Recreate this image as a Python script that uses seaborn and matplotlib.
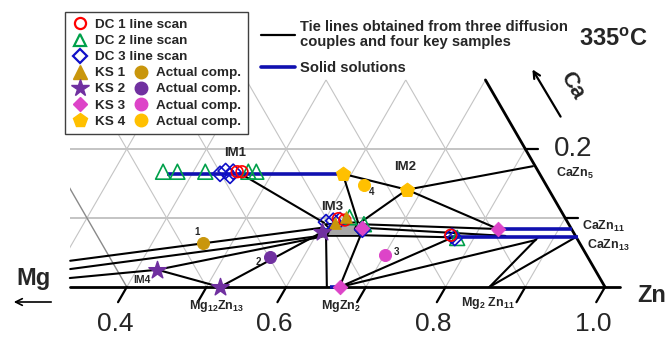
import numpy as np
import matplotlib
matplotlib.use("Agg")
import matplotlib.pyplot as plt
from matplotlib.lines import Line2D
from matplotlib.patches import Polygon
import seaborn as sns

# compositions are (Zn, Ca) mole fractions, Mg = 1 - Zn - Ca
# diffusion couple line scans
dc1_zn = [0.455, 0.461, 0.616, 0.625, 0.769]
dc1_ca = [0.167, 0.167, 0.099, 0.097, 0.075]
dc2_zn = [0.362, 0.380, 0.415, 0.469, 0.479, 0.629, 0.652, 0.779]
dc2_ca = [0.167, 0.167, 0.167, 0.167, 0.167, 0.101, 0.091, 0.071]
dc3_zn = [0.435, 0.440, 0.449, 0.450, 0.603, 0.611, 0.619, 0.654, 0.771, 0.776]
dc3_ca = [0.164, 0.168, 0.161, 0.167, 0.094, 0.096, 0.097, 0.083, 0.074, 0.071]

# key samples: phases found and actual (nominal) compositions
ks1_zn = [0.615, 0.624]
ks1_ca = [0.093, 0.101]
ks2_zn = [0.426, 0.517, 0.605]
ks2_ca = [0.025, 0.0, 0.080]
ks3_zn = [0.667, 0.824, 0.652]
ks3_ca = [0.0, 0.084, 0.086]
ks4_zn = [0.589, 0.681]
ks4_ca = [0.164, 0.141]
act_zn = [0.463, 0.558, 0.701, 0.624]
act_ca = [0.064, 0.044, 0.046, 0.148]
act_names = ["1", "2", "3", "4"]

# tie lines (start Zn, start Ca, end Zn, end Ca)
tie_zn0 = [0.310, 0.316, 0.322, 0.426, 0.426, 0.517, 0.613, 0.667, 0.667, 0.667,
           0.855, 0.855, 0.465, 0.589, 0.589, 0.681, 0.681, 0.681, 0.647, 0.651, 0.656]
tie_ca0 = [0.038, 0.026, 0.013, 0.025, 0.025, 0.0, 0.074, 0.0, 0.0, 0.0,
           0.0, 0.0, 0.162, 0.164, 0.164, 0.141, 0.141, 0.141, 0.091, 0.086, 0.075]
tie_zn1 = [0.603, 0.611, 0.426, 0.612, 0.517, 0.606, 0.651, 0.656, 0.773, 0.879,
           0.880, 0.927, 0.601, 0.643, 0.681, 0.646, 0.822, 0.824, 0.824, 0.838, 0.772]
tie_ca1 = [0.086, 0.075, 0.025, 0.074, 0.0, 0.080, 0.0, 0.074, 0.072, 0.068,
           0.072, 0.072, 0.093, 0.094, 0.141, 0.093, 0.175, 0.084, 0.084, 0.074, 0.072]

# solid solution ranges (Ca level, Zn from, Zn to)
ss_ca = [0.163, 0.084, 0.0724, 0.0]
ss_zn0 = [0.369, 0.824, 0.770, 0.655]
ss_zn1 = [0.589, 0.916, 0.930, 0.667]

# IM3 homogeneity region
im3_zn = [0.603, 0.643, 0.644, 0.656, 0.614, 0.613]
im3_ca = [0.091, 0.094, 0.084, 0.074, 0.074, 0.084]

zn_ticks = [0.4, 0.5, 0.6, 0.7, 0.8, 0.9, 1.0]
zn_labels = ["0.4", "", "0.6", "", "0.8", "", "1.0"]
ca_ticks = [0.1, 0.2]
ca_labels = ["", "0.2"]
grid_vals = [0.1, 0.2, 0.3, 0.4, 0.5, 0.6, 0.7, 0.8, 0.9]

c_ks1 = "#c9960c"
c_ks2 = "#7030a0"
c_ks3 = "#dd44c8"
c_ks4 = "#ffc000"
c_blue = "#1010b0"

sns.set_theme(style="white")
plt.rcParams["font.family"] = ["Liberation Sans", "DejaVu Sans"]
plt.rcParams["mathtext.fontset"] = "custom"
plt.rcParams["mathtext.rm"] = "Liberation Sans:bold"
plt.rcParams["mathtext.it"] = "Liberation Sans:bold"
plt.rcParams["mathtext.bf"] = "Liberation Sans:bold"

S3 = np.sqrt(3) / 2
SIDE = 797.0  # triangle side in pixels


def tern(zn, ca):
    zn = np.asarray(zn, float)
    ca = np.asarray(ca, float)
    return zn + ca / 2, ca * S3


def px(x, y):
    # figure pixel -> data coords (for text placement)
    return (x + 192) / SIDE, (287 - y) / SIDE


fig = plt.figure(figsize=(6.7, 3.38), dpi=100)
ax = fig.add_axes([0, 0, 1, 1])
ax.set_xlim(192 / SIDE, 862 / SIDE)
ax.set_ylim(-51 / SIDE, 287 / SIDE)
ax.axis("off")

# grid, clipped to the visible part of the triangle
xl = px(70, 0)[0]
top = tern(0.7, 0.3)
clip = Polygon([(xl, 0), (1.0, 0), (float(top[0]), float(top[1])), (xl, float(top[1]))],
               closed=True, transform=ax.transData)
for c in ca_ticks:
    ln, = ax.plot(*tern([0, 1 - c], [c, c]), color="#b4b4b4", lw=1.1, zorder=1)
    ln.set_clip_path(clip)
for v in grid_vals:
    ln, = ax.plot(*tern([v, v], [0, 1 - v]), color="#c4c4c4", lw=0.8, zorder=1)
    ln.set_clip_path(clip)
    dark = abs(v - 0.6) < 1e-9
    ln, = ax.plot(*tern([1 - v, 0], [0, 1 - v]), color="#8a8a8a" if dark else "#c4c4c4",
                  lw=1.0 if dark else 0.8, zorder=1)
    ln.set_clip_path(clip)

# triangle edges
ax.plot([xl, px(620, 0)[0]], [0, 0], color="black", lw=2.0, zorder=3)
ax.plot(*tern([1.0, 0.7], [0.0, 0.3]), color="black", lw=2.0, zorder=3)

# ticks
for t, lab in zip(zn_ticks, zn_labels):
    ax.plot(*tern([t, t], [0, -0.022]), color="black", lw=1.6, zorder=3)
    if lab:
        ax.text(*tern(t + 0.012, -0.054), lab, ha="center", va="center", fontsize=19)
for t, lab in zip(ca_ticks, ca_labels):
    ax.plot(*tern([1 - t, 1 - t + 0.016], [t, t]), color="black", lw=1.6, zorder=3)
    if lab:
        ax.text(*tern(1 - t + 0.06, t), lab, ha="center", va="center", fontsize=20)

# tie lines
for a, b, c, d in zip(tie_zn0, tie_ca0, tie_zn1, tie_ca1):
    ax.plot(*tern([a, c], [b, d]), color="black", lw=1.5, zorder=2)

# solid solutions
for c, a, b in zip(ss_ca, ss_zn0, ss_zn1):
    ax.plot(*tern([a, b], [c, c]), color=c_blue, lw=2.6, zorder=3, solid_capstyle="butt")

# IM3 region
ax.add_patch(Polygon(np.column_stack(tern(im3_zn, im3_ca)), closed=True,
                     facecolor="#a6a6a6", edgecolor="black", lw=1.3, zorder=3.5))


def pts(zn, ca, **kw):
    x, y = tern(zn, ca)
    sns.scatterplot(x=x, y=y, ax=ax, legend=False, **kw)


pts(dc2_zn, dc2_ca, marker="^", s=115, facecolor="none", edgecolor="#00a04a", linewidth=1.2, zorder=5)
pts(dc3_zn, dc3_ca, marker="D", s=60, facecolor="none", edgecolor="#1010c8", linewidth=1.2, zorder=5)
pts(dc1_zn, dc1_ca, marker="o", s=70, facecolor="none", edgecolor="#ff0000", linewidth=1.2, zorder=5)
pts(ks1_zn, ks1_ca, marker="^", s=70, color=c_ks1, edgecolor=c_ks1, zorder=6)
pts(ks2_zn, ks2_ca, marker="*", s=170, color=c_ks2, edgecolor=c_ks2, zorder=6)
pts(ks3_zn, ks3_ca, marker="D", s=55, color=c_ks3, edgecolor=c_ks3, zorder=6)
pts(ks4_zn, ks4_ca, marker="p", s=110, color=c_ks4, edgecolor=c_ks4, zorder=6)
act_cols = [c_ks1, c_ks2, c_ks3, c_ks4]
for z, c, col in zip(act_zn, act_ca, act_cols):
    pts([z], [c], marker="o", s=75, color=col, edgecolor=col, zorder=6)

# labels
lbl = dict(ha="center", va="center", fontweight="bold")
for name, xy in zip(act_names, [(197, 232), (258, 262), (396, 252), (372, 192)]):
    ax.text(*px(*xy), name, fontsize=7, **lbl)
ax.text(*px(235, 153), "IM1", fontsize=9.5, **lbl)
ax.text(*px(405, 167), "IM2", fontsize=9.5, **lbl)
ax.text(*px(332, 207), "IM3", fontsize=9.5, **lbl)
ax.text(*px(142, 280), "IM4", fontsize=7.5, **lbl)
ax.text(*px(556, 173), r"CaZn$_5$", fontsize=9, ha="left", va="center", fontweight="bold")
ax.text(*px(582, 226), r"CaZn$_{11}$", fontsize=9, ha="left", va="center", fontweight="bold")
ax.text(*px(587, 245), r"CaZn$_{13}$", fontsize=9, ha="left", va="center", fontweight="bold")
ax.text(*px(217, 306), r"Mg$_{12}$Zn$_{13}$", fontsize=9, **lbl)
ax.text(*px(341, 306), r"MgZn$_2$", fontsize=9, **lbl)
ax.text(*px(488, 303), r"Mg$_2$ Zn$_{11}$", fontsize=9, **lbl)
ax.text(*px(33, 279), "Mg", fontsize=17, **lbl)
ax.text(*px(652, 296), "Zn", fontsize=17, **lbl)
ax.text(*px(572, 86), "Ca", fontsize=16, rotation=-60, **lbl)
ax.text(*px(613, 40), r"335$^{o}$C", fontsize=17, **lbl)
ax.annotate("", xy=px(11, 302), xytext=px(54, 302),
            arrowprops=dict(arrowstyle="->", lw=1.2, color="black"))
ax.annotate("", xy=px(531, 67), xytext=px(562, 119),
            arrowprops=dict(arrowstyle="->", lw=1.6, color="black"))

# legends
blank = Line2D([], [], linestyle="none")
h1 = [Line2D([], [], ls="none", marker="o", ms=8, mfc="none", mec="#ff0000", mew=1.6),
      Line2D([], [], ls="none", marker="^", ms=9, mfc="none", mec="#00a04a", mew=1.6),
      Line2D([], [], ls="none", marker="D", ms=7, mfc="none", mec="#1010c8", mew=1.6),
      Line2D([], [], ls="none", marker="^", ms=10, color=c_ks1),
      Line2D([], [], ls="none", marker="*", ms=13, color=c_ks2),
      Line2D([], [], ls="none", marker="D", ms=7, color=c_ks3),
      Line2D([], [], ls="none", marker="p", ms=10, color=c_ks4),
      blank, blank, blank] + \
     [Line2D([], [], ls="none", marker="o", ms=9, color=col) for col in act_cols]
l1 = ["DC 1 line scan", "DC 2 line scan", "DC 3 line scan", "KS 1", "KS 2", "KS 3", "KS 4",
      "", "", ""] + ["Actual comp."] * 4
leg1 = ax.legend(h1, l1, ncol=2, loc="upper left", bbox_to_anchor=(65 / 670, 1 - 12 / 338),
                 bbox_transform=fig.transFigure, prop=dict(weight="bold", size=9.7),
                 frameon=True, fancybox=False, edgecolor="#404040", framealpha=1,
                 handlelength=1.2, handletextpad=0.5, labelspacing=0.27, borderpad=0.5,
                 columnspacing=-4.0, borderaxespad=0)
leg1.get_frame().set_linewidth(1.0)
ax.add_artist(leg1)

h2 = [Line2D([], [], color="black", lw=1.6), Line2D([], [], color=c_blue, lw=2.6)]
l2 = ["Tie lines obtained from three diffusion\ncouples and four key samples", "Solid solutions"]
leg2 = ax.legend(h2, l2, loc="upper left", bbox_to_anchor=(261 / 670, 1 - 20 / 338),
                 bbox_transform=fig.transFigure, prop=dict(weight="bold", size=10.6),
                 frameon=False, handlelength=2.3, handletextpad=0.35, labelspacing=0.85,
                 borderpad=0, borderaxespad=0)
leg2.get_texts()[0].set_linespacing(1.05)

fig.savefig("out.png", dpi=100)
